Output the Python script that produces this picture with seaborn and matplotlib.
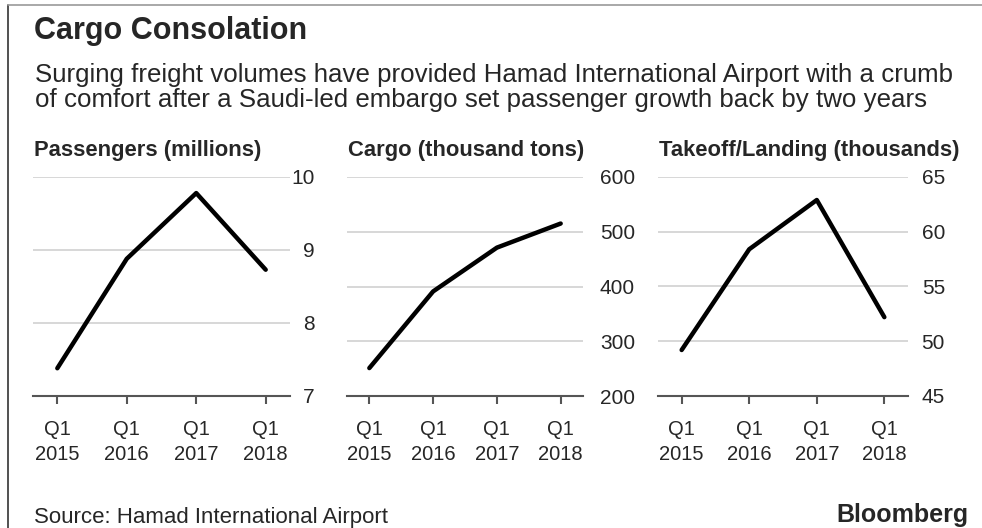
import matplotlib
matplotlib.use("Agg")
import matplotlib.pyplot as plt
from matplotlib.lines import Line2D
import seaborn as sns
import pandas as pd

# data
quarters = ["Q1\n2015", "Q1\n2016", "Q1\n2017", "Q1\n2018"]
passengers = [7.38, 8.88, 9.78, 8.73]      # millions
cargo = [251, 391, 471, 515]               # thousand tons
movements = [49.2, 58.4, 62.9, 52.2]       # thousands

panel_titles = ["Passengers (millions)", "Cargo (thousand tons)", "Takeoff/Landing (thousands)"]
panel_yticks = [[7, 8, 9, 10], [200, 300, 400, 500, 600], [45, 50, 55, 60, 65]]

sns.set_style("white")
plt.rcParams["font.family"] = ["Liberation Sans", "DejaVu Sans"]

W, H = 982, 528
fig = plt.figure(figsize=(W / 100, H / 100), dpi=100)

def fx(px):
    return px / W

def fy(py):
    return 1 - py / H

# axes boxes in pixels: left, right, and right edge of y labels
boxes = [(33, 290, 315), (347, 583, 635), (658, 908, 945)]
top_px, bot_px = 177, 396

series = [passengers, cargo, movements]
for (l, r, lab_r), vals, ticks, title in zip(boxes, series, panel_yticks, panel_titles):
    ax = fig.add_axes([fx(l), fy(bot_px), fx(r - l), (bot_px - top_px) / H])
    df = pd.DataFrame({"x": range(len(quarters)), "y": vals})
    sns.lineplot(data=df, x="x", y="y", ax=ax, color="black", linewidth=3.2, zorder=3)
    ax.set_xlim(-0.35, 3.35)
    ax.set_ylim(ticks[0], ticks[-1])
    ax.set_xticks(range(len(quarters)))
    ax.set_xticklabels(quarters, fontsize=14.5, linespacing=1.45)
    ax.set_yticks(ticks)
    ax.set_yticklabels([str(t) for t in ticks], fontsize=15, ha="right")
    ax.yaxis.tick_right()
    pad_pt = (lab_r - r) * 0.72
    ax.tick_params(axis="y", length=0, pad=pad_pt)
    ax.tick_params(axis="x", length=6, width=1.5, color="#555555", pad=11, direction="out", bottom=True)
    ax.set_xlabel("")
    ax.set_ylabel("")
    ax.grid(axis="y", color="#d4d4d4", linewidth=1.3)
    for s in ["top", "left", "right"]:
        ax.spines[s].set_visible(False)
    ax.spines["bottom"].set_color("#555555")
    ax.spines["bottom"].set_linewidth(1.5)
    ax.patch.set_alpha(0)
    fig.text(fx(l + 1), fy(150), title, fontsize=15.8, fontweight="bold", va="center", ha="left")

# headline, subtitle, footer
fig.text(fx(34), fy(31), "Cargo Consolation", fontsize=22, fontweight="bold", va="center", ha="left")
fig.text(fx(35), fy(75), "Surging freight volumes have provided Hamad International Airport with a crumb",
         fontsize=18.6, va="center", ha="left")
fig.text(fx(35), fy(100), "of comfort after a Saudi-led embargo set passenger growth back by two years",
         fontsize=18.6, va="center", ha="left")
fig.text(fx(34), fy(517), "Source: Hamad International Airport", fontsize=16, va="center", ha="left")
fig.text(fx(968), fy(515), "Bloomberg", fontsize=18, fontweight="bold", va="center", ha="right")

# frame lines at top and left
fig.add_artist(Line2D([fx(8), fx(8)], [0, fy(5)], transform=fig.transFigure, color="#333333", lw=1.2))
fig.add_artist(Line2D([fx(8), 1], [fy(5), fy(5)], transform=fig.transFigure, color="#999999", lw=1.2))

fig.savefig("out.png", dpi=100)
